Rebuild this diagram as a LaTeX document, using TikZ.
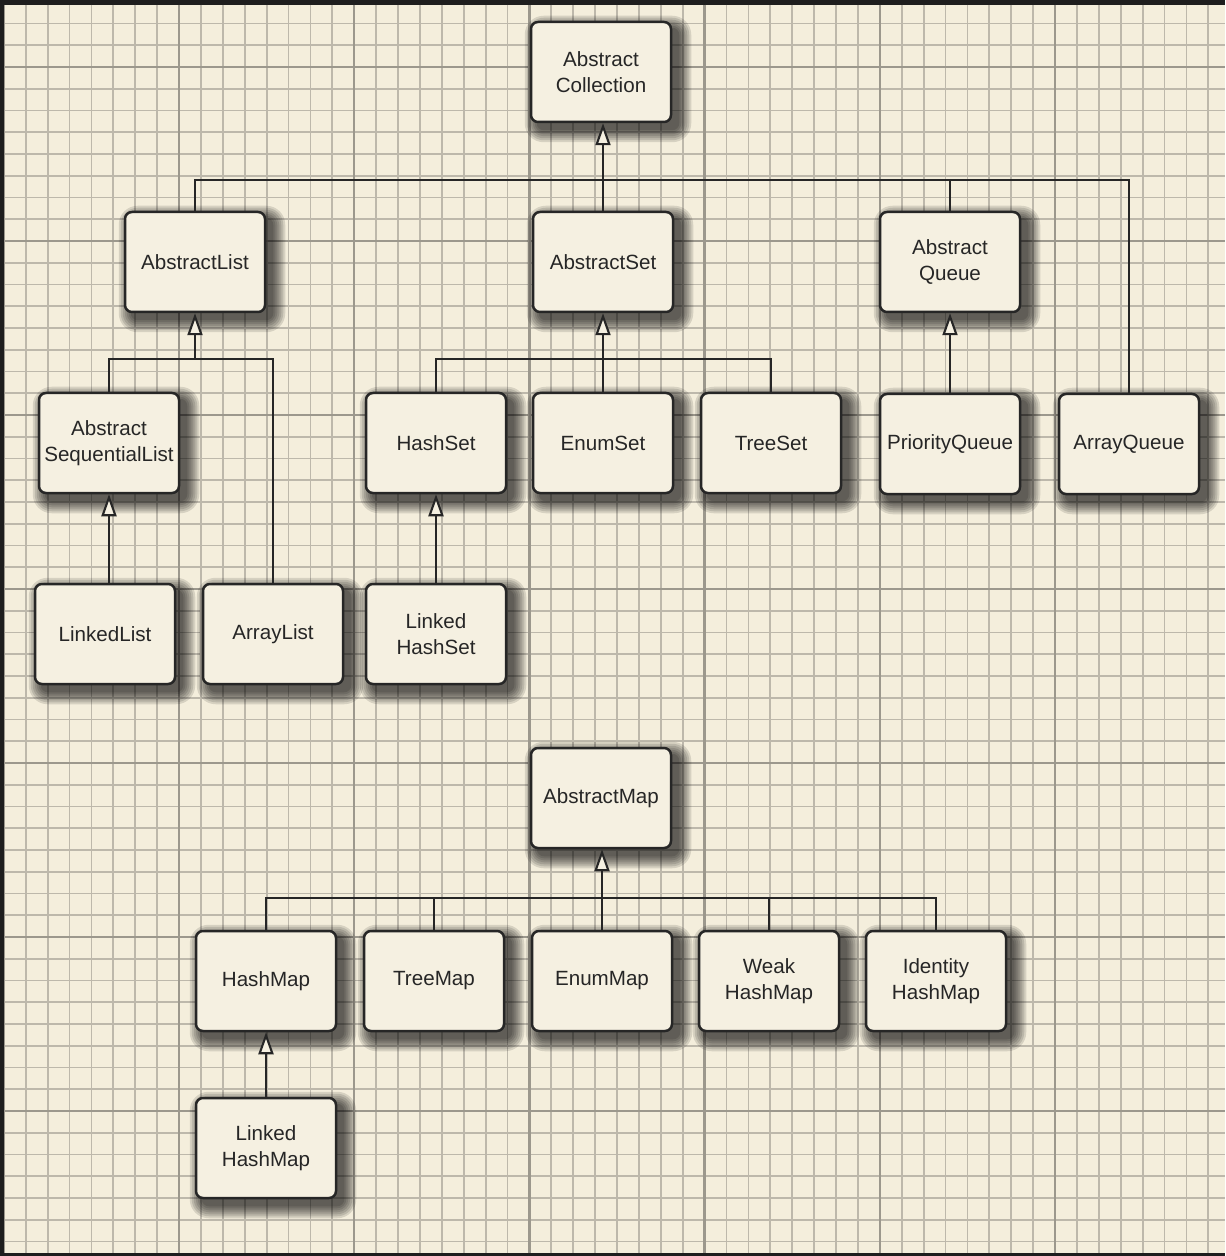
\documentclass[tikz,border=0pt]{standalone}
\usepackage{fontspec}
\setmainfont{Liberation Sans}
\usetikzlibrary{arrows.meta}
\definecolor{frame}{HTML}{1E1E1E}
\definecolor{paper}{HTML}{F4EEDC}
\definecolor{gridminor}{HTML}{BDB8AB}
\definecolor{gridmajor}{HTML}{9C988D}
\definecolor{boxfill}{HTML}{F5F0E1}
\definecolor{ink}{HTML}{262626}
\pgfdeclarelayer{gridlayer}
\pgfdeclarelayer{shadowlayer}
\pgfsetlayers{gridlayer,shadowlayer,main}
\begin{document}
\begin{tikzpicture}[x=0.5pt,y=-0.5pt,
  cbox/.style={draw=ink, line width=1.25pt, fill=boxfill, rounded corners=3.5pt,
    minimum width=70pt, minimum height=50pt, align=center, inner sep=1pt,
    font=\fontsize{10.3}{13.3}\selectfont, text=ink},
  shadowpart/.style={fill=black, fill opacity=0.12},
  link/.style={draw=ink, line width=1.05pt},
  inh/.style={link, -{Triangle[fill=boxfill, length=11pt, width=7.5pt]}},
  gminor/.style={draw=gridminor, line width=0.9pt},
  gmajor/.style={draw=gridmajor, line width=1.2pt}]
\useasboundingbox (0,0) rectangle (1225,1256);
\begin{pgfonlayer}{gridlayer}
\fill[frame] (0,0) rectangle (1225,1256);
\fill[paper] (4,5) rectangle (1225,1253);
\begin{scope}
  \clip (4,5) rectangle (1225,1253);
  \foreach \k in {0,...,55} { \draw[gminor] (3.8+\k*21.9,5) -- (3.8+\k*21.9,1253); }
  \foreach \k in {0,...,57} { \draw[gminor] (4,1.75+\k*21.75) -- (1225,1.75+\k*21.75); }
  \foreach \k in {0,8,...,48} { \draw[gmajor] (3.8+\k*21.9,5) -- (3.8+\k*21.9,1253); }
  \foreach \k in {3,11,...,57} { \draw[gmajor] (4,1.75+\k*21.75) -- (1225,1.75+\k*21.75); }
\end{scope}
\end{pgfonlayer}

% boxes
\node[cbox] (ac)  at (601,72)   {Abstract\\Collection};
\node[cbox] (al)  at (195,262)  {AbstractList};
\node[cbox] (as)  at (603,262)  {AbstractSet};
\node[cbox] (aq)  at (950,262)  {Abstract\\Queue};
\node[cbox] (asl) at (109,443)  {Abstract\\SequentialList};
\node[cbox] (hs)  at (436,443)  {HashSet};
\node[cbox] (es)  at (603,443)  {EnumSet};
\node[cbox] (ts)  at (771,443)  {TreeSet};
\node[cbox] (pq)  at (950,444)  {PriorityQueue};
\node[cbox] (arq) at (1129,444) {ArrayQueue};
\node[cbox] (ll)  at (105,634)  {LinkedList};
\node[cbox] (arl) at (273,634)  {ArrayList};
\node[cbox] (lhs) at (436,634)  {Linked\\HashSet};
\node[cbox] (am)  at (601,798)  {AbstractMap};
\node[cbox] (hm)  at (266,981)  {HashMap};
\node[cbox] (tm)  at (434,981)  {TreeMap};
\node[cbox] (em)  at (602,981)  {EnumMap};
\node[cbox] (whm) at (769,981)  {Weak\\HashMap};
\node[cbox] (ihm) at (936,981)  {Identity\\HashMap};
\node[cbox] (lhm) at (266,1148) {Linked\\HashMap};

% soft drop shadows
\begin{pgfonlayer}{shadowlayer}
\foreach \n in {ac,al,as,aq,asl,hs,es,ts,pq,arq,ll,arl,lhs,am,hm,tm,em,whm,ihm,lhm} {
  \foreach \e in {0,2,4,6,8,10,12} {
    \fill[shadowpart, rounded corners=3.5pt+\e*0.5pt]
      ([shift={(7-\e,7-\e)}]\n.north west) rectangle ([shift={(7+\e,7+\e)}]\n.south east);
  }
}
\end{pgfonlayer}

\coordinate (b1) at (0,180);
\coordinate (b2) at (0,359);
\coordinate (b3) at (0,898);

% collection level
\draw[link] (al.north) |- (arq.north |- b1) -- (arq.north);
\draw[link] (aq.north) -- (aq.north |- b1);
\draw[inh] (as.north) -- (as.north |- ac.south);
% list group
\draw[inh] (al.south |- b2) -- (al.south);
\draw[link] (asl.north) |- (arl.north |- b2) -- (arl.north);
\draw[inh] (asl.south |- ll.north) -- (asl.south);
% set group
\draw[inh] (es.north) -- (es.north |- as.south);
\draw[link] (hs.north) |- (ts.north |- b2) -- (ts.north);
\draw[inh] (lhs.north) -- (lhs.north |- hs.south);
% queue
\draw[inh] (pq.north) -- (pq.north |- aq.south);
% map group
\draw[inh] (em.north) -- (em.north |- am.south);
\draw[link] (hm.north) |- (ihm.north |- b3) -- (ihm.north);
\draw[link] (tm.north) -- (tm.north |- b3);
\draw[link] (whm.north) -- (whm.north |- b3);
\draw[inh] (lhm.north) -- (lhm.north |- hm.south);
\end{tikzpicture}
\end{document}
